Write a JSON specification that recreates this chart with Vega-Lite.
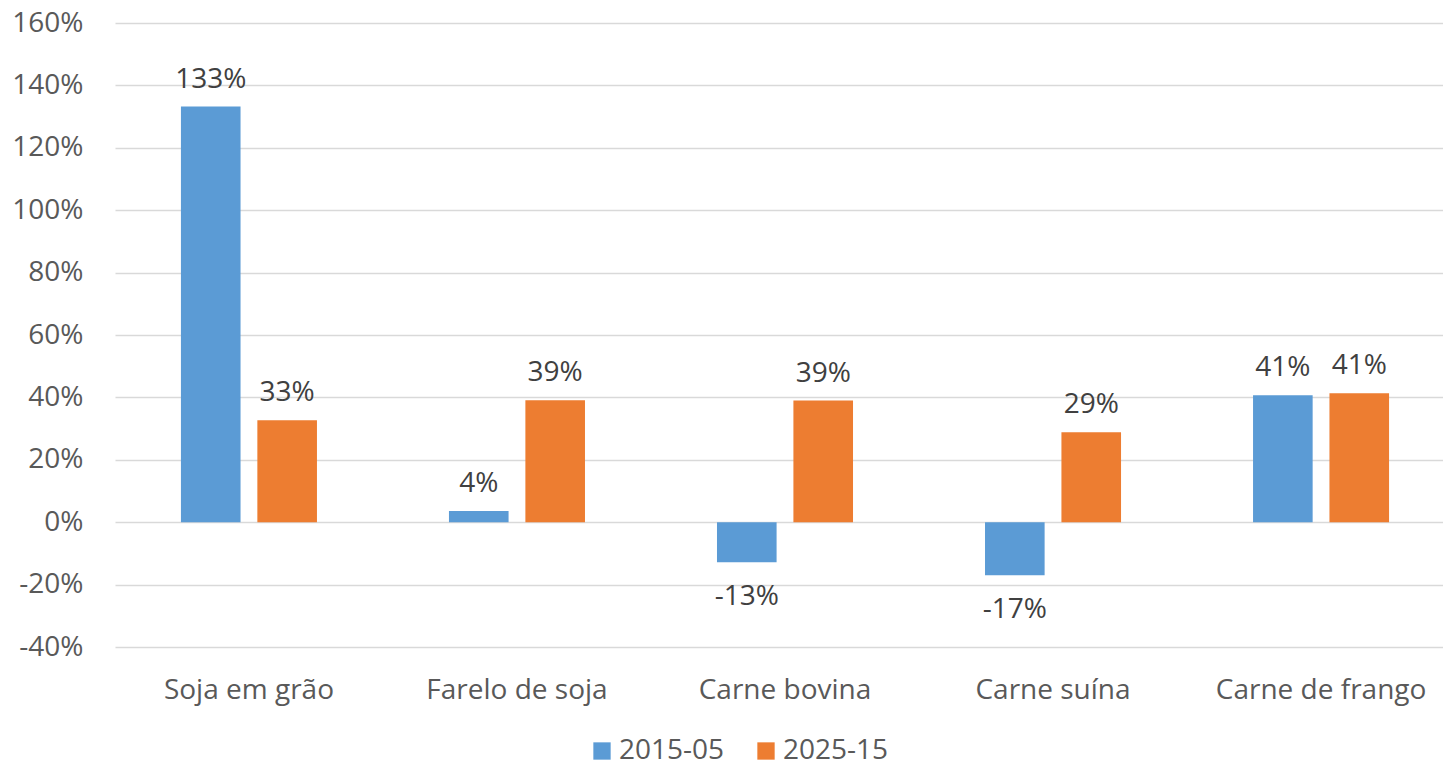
{
  "$schema": "https://vega.github.io/schema/vega-lite/v6.json",
  "autosize": {"type": "none"},
  "width": 1328,
  "height": 624,
  "padding": {"left": 115, "top": 23, "right": 0, "bottom": 114},
  "background": "white",
  "config": {
    "view": {"stroke": null},
    "font": "Open Sans"
  },
  "data": {
    "values": [
      {"produto": "Soja em grão", "periodo": "2015-05", "valor": 1.332},
      {"produto": "Soja em grão", "periodo": "2025-15", "valor": 0.327},
      {"produto": "Farelo de soja", "periodo": "2015-05", "valor": 0.036},
      {"produto": "Farelo de soja", "periodo": "2025-15", "valor": 0.391},
      {"produto": "Carne bovina", "periodo": "2015-05", "valor": -0.128},
      {"produto": "Carne bovina", "periodo": "2025-15", "valor": 0.39},
      {"produto": "Carne suína", "periodo": "2015-05", "valor": -0.17},
      {"produto": "Carne suína", "periodo": "2025-15", "valor": 0.288},
      {"produto": "Carne de frango", "periodo": "2015-05", "valor": 0.407},
      {"produto": "Carne de frango", "periodo": "2025-15", "valor": 0.413}
    ]
  },
  "encoding": {
    "x": {
      "field": "produto",
      "type": "nominal",
      "sort": null,
      "scale": {"range": [0, 1340], "paddingInner": 0.4925, "paddingOuter": 0.246},
      "axis": {
        "title": null,
        "domain": false,
        "ticks": false,
        "labelAngle": 0,
        "labelFontSize": 28,
        "labelColor": "#595959",
        "labelPadding": 29,
        "labelLimit": 0,
        "labelFont": "Open Sans"
      }
    },
    "xOffset": {
      "field": "periodo",
      "type": "nominal",
      "scale": {"paddingInner": 0.22, "paddingOuter": 0}
    },
    "y": {
      "field": "valor",
      "type": "quantitative",
      "scale": {"domain": [-0.4, 1.6], "nice": false, "zero": false},
      "axis": {
        "title": null,
        "format": ".0%",
        "labelExpr": "replace(datum.label, '\u2212', '-')",
        "values": [-0.4, -0.2, 0, 0.2, 0.4, 0.6, 0.8, 1.0, 1.2, 1.4, 1.6],
        "domain": false,
        "ticks": false,
        "grid": true,
        "gridColor": "#d9d9d9",
        "gridWidth": 1.3,
        "labelFontSize": 28,
        "labelColor": "#595959",
        "labelPadding": 32,
        "labelFont": "Open Sans"
      }
    },
    "color": {
      "field": "periodo",
      "type": "nominal",
      "scale": {"domain": ["2015-05", "2025-15"], "range": ["#5B9BD5", "#ED7D31"]},
      "legend": {
        "title": null,
        "orient": "none",
        "legendX": 473,
        "legendY": 714,
        "direction": "horizontal",
        "symbolType": "square",
        "symbolSize": 300,
        "symbolStrokeWidth": 0,
        "labelFontSize": 28,
        "labelColor": "#595959",
        "labelFont": "Open Sans",
        "labelOffset": 3,
        "labelLimit": 0,
        "columnPadding": 27,
        "padding": 0
      }
    }
  },
  "layer": [
    {"mark": {"type": "bar"}},
    {
      "transform": [{"filter": "datum.valor >= 0"}],
      "mark": {"type": "text", "baseline": "alphabetic", "dy": -19, "fontSize": 28, "color": "#404040", "font": "Open Sans",
        "text": {"expr": "replace(format(datum.valor, '.0%'), '\u2212', '-')"}},
      "encoding": {
        "color": {"value": "#404040"}
      }
    },
    {
      "transform": [{"filter": "datum.valor < 0"}],
      "mark": {"type": "text", "baseline": "alphabetic", "dy": 43, "fontSize": 28, "color": "#404040", "font": "Open Sans",
        "text": {"expr": "replace(format(datum.valor, '.0%'), '\u2212', '-')"}},
      "encoding": {
        "color": {"value": "#404040"}
      }
    }
  ]
}
